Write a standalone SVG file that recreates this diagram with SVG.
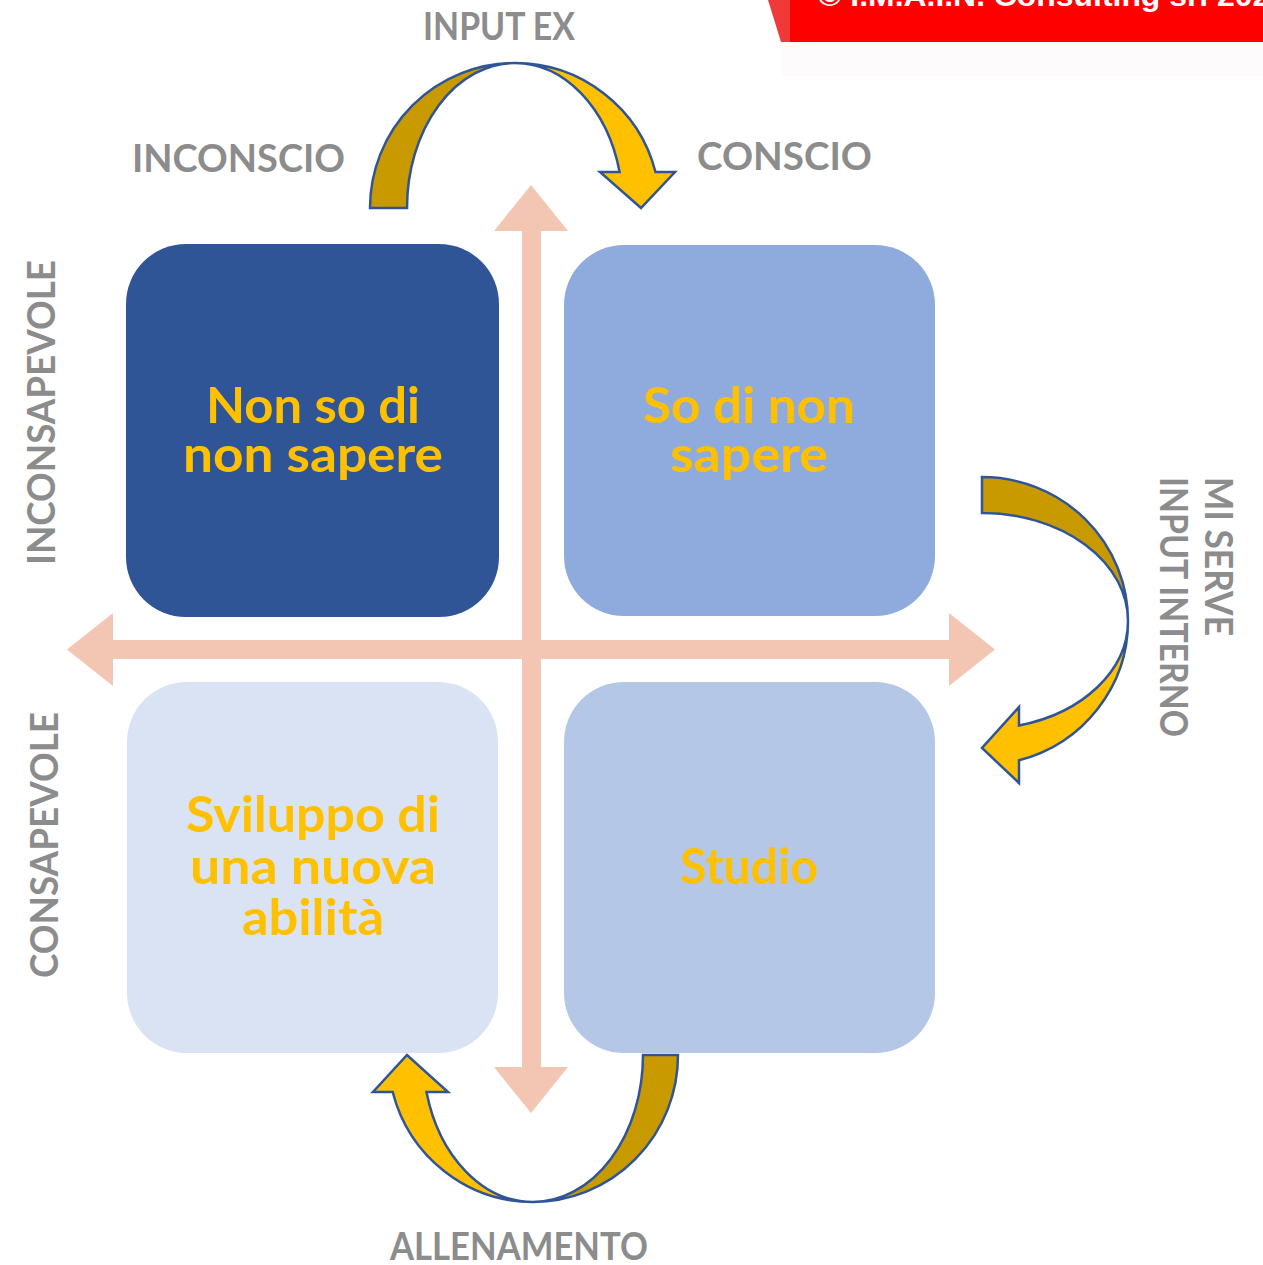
<svg xmlns="http://www.w3.org/2000/svg" width="1263" height="1265" viewBox="0 0 1263 1265">
  <style>
    .box-text { font-family: "Lato", "Noto Sans", "Liberation Sans", sans-serif; font-weight: 700; font-size: 50px; fill: #FFC000; text-anchor: middle; }
    .label { font-family: "Lato", "Noto Sans", "Liberation Sans", sans-serif; font-weight: 700; font-size: 39px; fill: #8C8C8C; }
    .banner-text { font-family: "Liberation Sans", Arial, sans-serif; font-weight: 700; font-size: 30px; fill: #FFFFFF; }
    .cross { fill: #F3C5B3; }
    .start { fill: #C99A00; stroke: #2F5597; stroke-width: 2.5; stroke-linejoin: miter; }
    .end { fill: #FFC000; stroke: #2F5597; stroke-width: 2.5; stroke-linejoin: miter; }
  </style>
  <rect x="0" y="0" width="1263" height="1265" fill="#FFFFFF"/>

  <!-- Banner -->
  <g id="banner">
    <rect x="782" y="42" width="481" height="34" fill="#FDFBFC"/>
    <polygon points="768,0 790,0 790,42 781,42" fill="#F03A3A"/>
    <rect x="790" y="0" width="473" height="42" fill="#FF0000"/>
    <text class="banner-text" x="818" y="6" textLength="470" lengthAdjust="spacingAndGlyphs">© I.M.A.I.N. Consulting srl 2020</text>
  </g>

  <!-- Cross axes -->
  <g id="axes">
    <rect class="cross" x="522" y="230" width="19" height="839"/>
    <polygon class="cross" points="531,185 568,231 494,231"/>
    <polygon class="cross" points="531,1113 568,1067 494,1067"/>
    <rect class="cross" x="111" y="640" width="840" height="19"/>
    <polygon class="cross" points="67,649.5 113,613 113,686"/>
    <polygon class="cross" points="995,649.5 949,613 949,686"/>
  </g>

  <!-- Nodes -->
  <g id="node-non-so">
    <rect x="126" y="244" width="373" height="373" rx="60" ry="60" fill="#2F5597"/>
    <text class="box-text" x="313" y="423" textLength="214" lengthAdjust="spacingAndGlyphs">Non so di</text>
    <text class="box-text" x="313" y="472" textLength="260" lengthAdjust="spacingAndGlyphs">non sapere</text>
  </g>
  <g id="node-so-di-non">
    <rect x="564" y="245" width="371" height="371" rx="60" ry="60" fill="#8FAADC"/>
    <text class="box-text" x="749" y="423" textLength="212" lengthAdjust="spacingAndGlyphs">So di non</text>
    <text class="box-text" x="749" y="472" textLength="158" lengthAdjust="spacingAndGlyphs">sapere</text>
  </g>
  <g id="node-sviluppo">
    <rect x="127" y="682" width="371" height="371" rx="60" ry="60" fill="#DAE3F3"/>
    <text class="box-text" x="313" y="832" textLength="254" lengthAdjust="spacingAndGlyphs">Sviluppo di</text>
    <text class="box-text" x="313" y="884" textLength="246" lengthAdjust="spacingAndGlyphs">una nuova</text>
    <text class="box-text" x="313" y="935" textLength="142" lengthAdjust="spacingAndGlyphs">abilità</text>
  </g>
  <g id="node-studio">
    <rect x="564" y="682" width="371" height="371" rx="60" ry="60" fill="#B4C7E7"/>
    <text class="box-text" x="749" y="884" textLength="138" lengthAdjust="spacingAndGlyphs">Studio</text>
  </g>

  <!-- Connectors: curved arrows -->
  <g id="connectors">
    <g id="arrow-input-ex">
      <path class="start" d="M 370 208 A 145 145 0 0 1 515 63 A 108 145 0 0 0 407 208 Z"/>
      <path class="end" d="M 515 63 A 145 145 0 0 1 655.5 172 L 675 172 L 641 208 L 600 172 L 619.6 172 A 108 145 0 0 0 515 63 Z"/>
    </g>
    <g id="arrow-input-interno">
      <path class="start" d="M 982 477 A 146 144 0 0 1 1128 621 A 146 108 0 0 0 982 513 Z"/>
      <path class="end" d="M 1128 621 A 146 144 0 0 1 1019 760.3 L 1019 783 L 982 748 L 1019 707 L 1019 725.5 A 146 108 0 0 0 1128 621 Z"/>
    </g>
    <g id="arrow-allenamento">
      <path class="start" d="M 678 1055 A 145 147 0 0 1 533 1202 A 110 147 0 0 0 643 1055 Z"/>
      <path class="end" d="M 533 1202 A 145 147 0 0 1 392.7 1092 L 373 1092 L 407 1055 L 448 1092 L 426.5 1092 A 110 147 0 0 0 533 1202 Z"/>
    </g>
  </g>

  <!-- Labels -->
  <g id="labels">
    <text class="label" x="423" y="40" textLength="152" lengthAdjust="spacingAndGlyphs">INPUT EX</text>
    <text class="label" x="132" y="172" textLength="213" lengthAdjust="spacingAndGlyphs">INCONSCIO</text>
    <text class="label" x="697" y="170" textLength="175" lengthAdjust="spacingAndGlyphs">CONSCIO</text>
    <text class="label" x="390" y="1260" textLength="258" lengthAdjust="spacingAndGlyphs">ALLENAMENTO</text>
    <text class="label" transform="translate(55,565) rotate(-90)" x="0" y="0" textLength="305" lengthAdjust="spacingAndGlyphs">INCONSAPEVOLE</text>
    <text class="label" transform="translate(58,978) rotate(-90)" x="0" y="0" textLength="266" lengthAdjust="spacingAndGlyphs">CONSAPEVOLE</text>
    <text class="label" transform="translate(1205,477) rotate(90)" x="0" y="0" textLength="159" lengthAdjust="spacingAndGlyphs">MI SERVE</text>
    <text class="label" transform="translate(1160,477) rotate(90)" x="0" y="0" textLength="260" lengthAdjust="spacingAndGlyphs">INPUT INTERNO</text>
  </g>
</svg>
